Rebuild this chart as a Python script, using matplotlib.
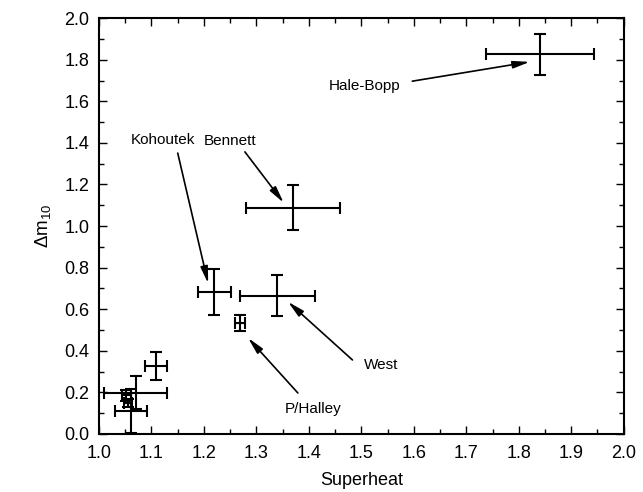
import numpy as np
import matplotlib.pyplot as plt
from matplotlib.ticker import MultipleLocator

plt.rcParams['font.family'] = ['Liberation Sans', 'DejaVu Sans']
plt.rcParams['mathtext.fontset'] = 'custom'
plt.rcParams['mathtext.rm'] = 'Liberation Sans'
plt.rcParams['mathtext.it'] = 'Liberation Sans'

# comet measurements: superheat vs. delta m10, with 1-sigma errors
superheat = [1.84, 1.370, 1.340, 1.220, 1.269, 1.109, 1.070, 1.061, 1.052, 1.055]
superheat_err = [0.103, 0.090, 0.071, 0.031, 0.010, 0.021, 0.060, 0.030, 0.008, 0.008]
dm10 = [1.826, 1.088, 0.665, 0.682, 0.532, 0.328, 0.199, 0.110, 0.185, 0.150]
dm10_err = [0.100, 0.108, 0.100, 0.110, 0.038, 0.068, 0.080, 0.105, 0.028, 0.020]

# named comets: label position, arrow tail, arrow tip
names = ['Hale-Bopp', 'Bennett', 'Kohoutek', 'West', 'P/Halley']
label_xy = [(1.507, 1.676), (1.25, 1.41), (1.122, 1.413), (1.538, 0.332), (1.408, 0.121)]
tail_xy = [(1.597, 1.697), (1.278, 1.357), (1.150, 1.351), (1.483, 0.356), (1.379, 0.197)]
tip_xy = [(1.821, 1.790), (1.352, 1.112), (1.208, 0.724), (1.360, 0.636), (1.284, 0.462)]

fig = plt.figure(figsize=(6.43, 4.92), dpi=100)
ax = fig.add_axes([0.154, 0.118, 0.816, 0.845])

ax.errorbar(superheat, dm10, xerr=superheat_err, yerr=dm10_err, fmt='none',
            ecolor='black', elinewidth=1.5, capsize=4.5, capthick=1.5)

for name, lab, tail, tip in zip(names, label_xy, tail_xy, tip_xy):
    ax.text(lab[0], lab[1], name, ha='center', va='center', fontsize=11)
    ax.annotate('', xy=tip, xytext=tail,
                arrowprops=dict(arrowstyle='-|>,head_length=1.0,head_width=0.22',
                                color='black', lw=1.2, shrinkA=0, shrinkB=0))

ax.set_xlim(1.0, 2.0)
ax.set_ylim(0.0, 2.0)
ax.xaxis.set_major_locator(MultipleLocator(0.1))
ax.xaxis.set_minor_locator(MultipleLocator(0.05))
ax.yaxis.set_major_locator(MultipleLocator(0.2))
ax.yaxis.set_minor_locator(MultipleLocator(0.1))
ax.xaxis.set_major_formatter(plt.FormatStrFormatter('%.1f'))
ax.yaxis.set_major_formatter(plt.FormatStrFormatter('%.1f'))
ax.tick_params(which='both', direction='in', top=True, right=True, labelsize=13, width=1.0)
ax.tick_params(which='major', length=6)
ax.tick_params(axis='x', which='major', pad=8)
ax.tick_params(axis='y', which='major', pad=7)
ax.tick_params(which='minor', length=3.5)
for s in ax.spines.values():
    s.set_linewidth(1.5)

ax.set_xlabel('Superheat', fontsize=13, labelpad=7)
ax.set_ylabel(r'$\Delta\mathrm{m}_{10}$', fontsize=13.5, labelpad=8)

fig.savefig('out.png', dpi=100)
